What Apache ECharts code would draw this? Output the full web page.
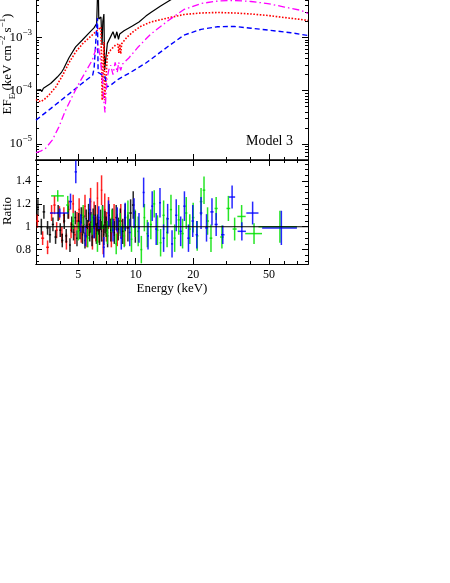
<!DOCTYPE html>
<html>
<head>
<meta charset="utf-8">
<script src="https://cdn.jsdelivr.net/npm/echarts@6/dist/echarts.min.js"></script>
<style>
html, body { margin: 0; padding: 0; background: #fff; }
#main { width: 450px; height: 583px; }
</style>
</head>
<body>
<div id="main"></div>
<script>
// model curves: energy (keV) and EF_E (keV cm^-2 s^-1)
var totalE = [3.0, 3.17, 3.22, 3.28, 3.58, 3.88, 4.09, 4.18, 4.46, 4.84, 5.25, 5.68, 6.04, 6.24, 6.3, 6.35, 6.4, 6.44, 6.57, 6.66, 6.72, 6.81, 6.87, 6.91, 6.99, 7.1, 7.39, 7.6, 7.79, 7.96, 8.12, 8.24, 8.68, 9.6, 10.4, 11.3, 12.0, 13.5, 14.9, 16, 20, 30, 50, 80];
var totalF = [1.02e-4, 1.05e-4, 9.6e-5, 1.11e-4, 1.36e-4, 1.8e-4, 2.23e-4, 2.54e-4, 4.1e-4, 6.6e-4, 8.9e-4, 1.2e-3, 1.5e-3, 1.82e-3, 1.9e-3, 1.5e-2, 2.2e-3, 2.11e-3, 2.4e-3, 7.2e-4, 2.0e-3, 2.74e-3, 2.43e-4, 2.43e-4, 2.43e-4, 7.7e-4, 1.03e-3, 1.27e-3, 9.6e-4, 1.27e-3, 9.2e-4, 1.15e-3, 1.33e-3, 1.63e-3, 1.94e-3, 2.5e-3, 2.92e-3, 3.87e-3, 4.8e-3, 5.6e-3, 7.2e-3, 9.0e-3, 8.5e-3, 7.0e-3];

var dottedE = [3.0, 3.17, 3.31, 3.5, 3.81, 4.12, 4.46, 4.84, 5.25, 5.68, 6.16, 6.41, 6.57, 6.67, 6.81, 6.87, 6.99, 7.1, 7.39, 7.85, 8.07, 8.15, 8.24, 8.34, 8.44, 9.05, 9.8, 10.6, 12.0, 14.7, 17.9, 22.0, 26.9, 32.9, 40.2, 49.2, 60.2, 73.6, 80];
var dottedF = [6.8e-5, 6.2e-5, 6.8e-5, 8.2e-5, 1.17e-4, 1.88e-4, 3.3e-4, 5.3e-4, 7.5e-4, 9.7e-4, 1.26e-3, 1.43e-3, 1.56e-3, 6.6e-5, 8.2e-4, 6.6e-5, 6.6e-5, 4.65e-4, 5.8e-4, 7.2e-4, 7.4e-4, 5.1e-4, 7.5e-4, 4.9e-4, 7.6e-4, 1.03e-3, 1.31e-3, 1.6e-3, 1.94e-3, 2.3e-3, 2.68e-3, 2.86e-3, 2.92e-3, 2.86e-3, 2.74e-3, 2.57e-3, 2.35e-3, 2.16e-3, 2.07e-3];

var dashedE = [3.0, 3.58, 4.29, 5.14, 5.95, 6.05, 6.16, 6.24, 6.3, 6.35, 6.4, 6.55, 6.7, 6.88, 7.07, 7.4, 8.13, 9.4, 11.3, 12.0, 14.7, 17.9, 22.0, 26.9, 32.9, 40.2, 49.2, 65, 80];
var dashedF = [2.8e-5, 4.6e-5, 7.7e-5, 1.3e-4, 1.96e-4, 2.65e-4, 7.2e-4, 1.7e-3, 2.3e-3, 2.2e-4, 2.14e-4, 2.05e-4, 1.96e-4, 1.9e-4, 1.17e-4, 1.27e-4, 1.65e-4, 2.2e-4, 3.3e-4, 3.86e-4, 6.66e-4, 1.1e-3, 1.41e-3, 1.58e-3, 1.6e-3, 1.48e-3, 1.37e-3, 1.22e-3, 1.08e-3];

var dashDotE = [3.0, 3.17, 3.37, 3.65, 3.95, 4.29, 4.64, 5.04, 5.46, 5.92, 6.16, 6.34, 6.49, 6.66, 6.8, 6.9, 7.05, 7.22, 7.39, 7.6, 7.8, 8.0, 8.14, 8.34, 8.53, 9.2, 10.3, 11.3, 12.0, 14.7, 17.9, 22.0, 26.9, 32.9, 40.2, 49.2, 60.2, 73.6, 80];
var dashDotF = [6.9e-6, 7.3e-6, 8.3e-6, 1.18e-5, 2.07e-5, 4.3e-5, 7.7e-5, 1.37e-4, 2.26e-4, 3.75e-4, 5.8e-4, 7.2e-4, 4.65e-4, 1.96e-4, 6.6e-5, 3.9e-5, 1.57e-4, 2.43e-4, 3.0e-4, 2.0e-4, 3.4e-4, 2.2e-4, 3.4e-4, 2.4e-4, 3.15e-4, 4.1e-4, 6.6e-4, 9.3e-4, 1.15e-3, 2.02e-3, 3.33e-3, 4.3e-3, 4.8e-3, 4.9e-3, 4.7e-3, 4.3e-3, 3.7e-3, 3.2e-3, 2.8e-3];

// ratio data: bin centre, half width (keV), ratio, 1-sigma error
var blackE = [3.07, 3.2, 3.3, 3.45, 3.55, 3.68, 3.8, 3.92, 4.02, 4.12, 4.22, 4.32, 4.42, 4.52, 4.62, 4.72, 4.82, 4.92, 5.02, 5.1, 5.18, 5.26, 5.34, 5.42, 5.5, 5.58, 5.66, 5.74, 5.82, 5.9, 5.98, 6.06, 6.14, 6.22, 6.3, 6.38, 6.46, 6.54, 6.62, 6.7, 6.8, 6.9, 7.0, 7.12, 7.25, 7.4, 7.55, 7.72, 7.9, 8.1, 8.3, 8.55, 8.8, 9.1, 9.4, 9.7, 9.95];
var blackW = [0.04, 0.04, 0.05, 0.05, 0.05, 0.05, 0.05, 0.05, 0.05, 0.05, 0.05, 0.05, 0.05, 0.05, 0.05, 0.05, 0.05, 0.05, 0.05, 0.04, 0.04, 0.04, 0.04, 0.04, 0.04, 0.04, 0.04, 0.04, 0.04, 0.04, 0.04, 0.04, 0.04, 0.04, 0.04, 0.04, 0.04, 0.04, 0.04, 0.04, 0.05, 0.05, 0.05, 0.06, 0.06, 0.07, 0.07, 0.08, 0.08, 0.1, 0.1, 0.12, 0.12, 0.15, 0.15, 0.15, 0.1];
var blackR = [1.17, 1.0, 1.13, 0.99, 0.93, 1.02, 0.91, 1.12, 0.97, 0.88, 1.05, 0.92, 1.13, 0.84, 1.02, 0.95, 1.08, 0.9, 1.05, 0.97, 1.1, 0.93, 1.02, 0.88, 1.07, 0.98, 1.12, 0.95, 1.04, 0.91, 1.08, 0.99, 1.1, 0.94, 1.03, 1.0, 0.92, 1.06, 0.96, 1.09, 0.93, 1.04, 1.0, 0.92, 1.1, 0.97, 1.06, 0.95, 1.08, 0.98, 1.05, 0.96, 1.08, 0.99, 1.12, 1.19, 1.0];
var blackErr = [0.07, 0.07, 0.06, 0.06, 0.07, 0.06, 0.06, 0.07, 0.06, 0.06, 0.07, 0.06, 0.06, 0.06, 0.07, 0.07, 0.06, 0.07, 0.07, 0.08, 0.07, 0.08, 0.08, 0.07, 0.08, 0.08, 0.08, 0.08, 0.09, 0.08, 0.08, 0.09, 0.09, 0.09, 0.08, 0.07, 0.08, 0.09, 0.09, 0.1, 0.09, 0.1, 0.09, 0.1, 0.1, 0.1, 0.1, 0.1, 0.11, 0.1, 0.11, 0.11, 0.12, 0.12, 0.12, 0.12, 0.14];

var redE = [3.05, 3.25, 3.45, 3.62, 3.75, 3.85, 3.98, 4.1, 4.2, 4.33, 4.45, 4.58, 4.7, 4.8, 4.92, 5.05, 5.18, 5.3, 5.42, 5.55, 5.68, 5.8, 5.93, 6.05, 6.18, 6.3, 6.42, 6.62, 6.75, 6.88, 7.02, 7.2, 7.45, 7.7, 8.0, 8.35, 8.75];
var redW = [0.05, 0.06, 0.06, 0.05, 0.05, 0.05, 0.05, 0.05, 0.05, 0.05, 0.05, 0.05, 0.05, 0.05, 0.05, 0.05, 0.05, 0.05, 0.05, 0.05, 0.05, 0.05, 0.05, 0.05, 0.05, 0.05, 0.05, 0.06, 0.06, 0.07, 0.07, 0.08, 0.1, 0.1, 0.12, 0.15, 0.18];
var redR = [1.05, 0.9, 0.82, 1.12, 1.19, 0.97, 1.12, 0.93, 1.1, 0.87, 1.15, 0.97, 1.2, 0.93, 1.05, 1.15, 0.95, 1.08, 1.18, 0.92, 1.02, 1.22, 0.9, 1.1, 0.98, 1.25, 0.96, 1.32, 0.88, 1.15, 1.0, 1.12, 0.95, 1.06, 0.97, 1.05, 0.99];
var redErr = [0.06, 0.06, 0.06, 0.07, 0.08, 0.07, 0.06, 0.07, 0.07, 0.07, 0.08, 0.07, 0.08, 0.08, 0.08, 0.1, 0.09, 0.09, 0.1, 0.1, 0.1, 0.12, 0.1, 0.12, 0.11, 0.14, 0.1, 0.13, 0.12, 0.14, 0.13, 0.14, 0.13, 0.14, 0.14, 0.15, 0.16];

var greenE = [3.9, 4.4, 4.7, 5.0, 5.3, 5.6, 5.9, 6.3, 6.7, 7.1, 7.5, 7.9, 8.3, 8.7, 9.1, 9.5, 9.9, 10.3, 10.7, 11.1, 11.5, 12.0, 12.5, 13.0, 13.5, 14.0, 14.6, 15.3, 16.0, 16.8, 17.6, 18.4, 19.2, 20.0, 21.0, 22.0, 22.8, 23.8, 24.8, 26.4, 28.3, 30.6, 33.0, 35.9, 41.7, 57];
var greenW = [0.3, 0.08, 0.06, 0.06, 0.06, 0.06, 0.06, 0.07, 0.07, 0.08, 0.08, 0.08, 0.1, 0.1, 0.1, 0.1, 0.1, 0.12, 0.12, 0.12, 0.12, 0.15, 0.15, 0.15, 0.15, 0.18, 0.18, 0.2, 0.2, 0.22, 0.25, 0.25, 0.28, 0.3, 0.3, 0.35, 0.35, 0.4, 0.4, 0.5, 0.6, 0.7, 0.8, 1.8, 4.2, 13];
var greenR = [1.27, 1.19, 1.05, 0.96, 1.1, 0.9, 1.02, 0.87, 1.08, 0.95, 1.05, 0.85, 1.02, 0.92, 1.12, 0.89, 1.03, 0.96, 0.8, 1.08, 0.94, 1.02, 1.2, 0.97, 0.86, 1.1, 0.95, 1.15, 0.9, 1.06, 0.94, 1.12, 0.98, 1.08, 0.92, 1.22, 1.32, 1.05, 0.9, 1.16, 0.91, 1.16, 0.98, 1.09, 0.94, 1.0];
var greenErr = [0.05, 0.08, 0.07, 0.08, 0.09, 0.08, 0.09, 0.09, 0.1, 0.1, 0.1, 0.09, 0.1, 0.1, 0.11, 0.11, 0.12, 0.13, 0.12, 0.12, 0.12, 0.13, 0.12, 0.13, 0.12, 0.13, 0.13, 0.13, 0.12, 0.13, 0.13, 0.14, 0.13, 0.13, 0.13, 0.12, 0.12, 0.12, 0.12, 0.1, 0.1, 0.11, 0.1, 0.1, 0.09, 0.14];

var blueE = [4.0, 4.55, 4.85, 5.15, 5.45, 5.75, 6.05, 6.4, 6.8, 7.2, 7.6, 8.0, 8.4, 8.8, 9.3, 9.8, 10.4, 11.0, 11.6, 12.2, 12.8, 13.4, 14.0, 14.7, 15.5, 16.3, 17.2, 18.0, 18.9, 19.9, 20.9, 22.0, 23.5, 25.1, 26.4, 28.6, 32.0, 36.0, 41.0, 58.0];
var blueW = [0.45, 0.08, 0.07, 0.07, 0.07, 0.07, 0.07, 0.07, 0.08, 0.08, 0.08, 0.1, 0.1, 0.1, 0.12, 0.12, 0.13, 0.13, 0.14, 0.15, 0.16, 0.16, 0.18, 0.2, 0.2, 0.22, 0.25, 0.25, 0.28, 0.3, 0.3, 0.35, 0.4, 0.5, 0.5, 0.6, 1.2, 1.8, 3.0, 12];
var blueR = [1.12, 1.22, 1.48, 1.03, 0.92, 1.15, 1.0, 1.08, 0.82, 1.12, 0.97, 1.06, 0.9, 1.09, 0.95, 1.12, 0.99, 1.3, 0.92, 1.18, 0.98, 1.21, 0.9, 1.07, 0.85, 1.1, 0.96, 1.18, 0.9, 1.05, 0.93, 1.12, 0.99, 1.13, 1.02, 0.93, 1.26, 0.96, 1.12, 0.99];
var blueErr = [0.04, 0.07, 0.1, 0.08, 0.09, 0.1, 0.1, 0.1, 0.09, 0.11, 0.1, 0.11, 0.1, 0.12, 0.12, 0.13, 0.13, 0.13, 0.12, 0.13, 0.14, 0.13, 0.12, 0.13, 0.12, 0.14, 0.13, 0.13, 0.12, 0.14, 0.12, 0.14, 0.12, 0.12, 0.1, 0.08, 0.1, 0.08, 0.1, 0.15];

var ratioRef = 1;

// tick positions
var xMajor = [5, 10, 20, 50];
var xMinor = [4, 6, 7, 8, 9, 30, 40, 60, 70, 80];
var yMajorTop = [1e-5, 1e-4, 1e-3];
var yMinorTop = [6e-6, 7e-6, 8e-6, 9e-6, 2e-5, 3e-5, 4e-5, 5e-5, 6e-5, 7e-5, 8e-5, 9e-5, 2e-4, 3e-4, 4e-4, 5e-4, 6e-4, 7e-4, 8e-4, 9e-4, 2e-3, 3e-3, 4e-3, 5e-3];
var yMajorRatio = [0.8, 1, 1.2, 1.4];
var yMinorRatio = [0.7, 0.75, 0.85, 0.9, 0.95, 1.05, 1.1, 1.15, 1.25, 1.3, 1.35, 1.45, 1.5, 1.55];

var FONT = 'Liberation Serif';
var NB = '\u00a0';

function pairs(xs, ys) {
	var out = [];
	for (var i = 0; i < xs.length; i++) out.push([xs[i], ys[i]]);
	return out;
}

function errData(e, w, r, err) {
	var out = [];
	for (var i = 0; i < e.length; i++) {
		out.push([e[i], e[i] - w[i], e[i] + w[i], r[i], r[i] - err[i], r[i] + err[i]]);
	}
	return out;
}

function xAxisDef(grid, pos, ticks, len, labels, lw) {
	return {
		type: 'log', logBase: 10, gridIndex: grid, position: pos, min: 3, max: 80,
		axisLine: {show: true, onZero: false, lineStyle: {color: '#000', width: lw || 1}},
		axisTick: {show: true, inside: true, length: len, customValues: ticks, lineStyle: {color: '#000', width: 1}},
		axisLabel: {show: labels, customValues: ticks, margin: 5, color: '#000', fontFamily: FONT, fontSize: 12,
			formatter: function(v) { return String(+(+v).toPrecision(3)); }},
		splitLine: {show: false}, minorTick: {show: false}
	};
}

function yLogDef(pos, ticks, len, labels) {
	return {
		type: 'log', logBase: 10, gridIndex: 0, position: pos, min: 5e-6, max: 1e-2,
		axisLine: {show: true, onZero: false, lineStyle: {color: '#000', width: 1}},
		axisTick: {show: true, inside: true, length: len, customValues: ticks, lineStyle: {color: '#000', width: 1}},
		axisLabel: {show: labels, customValues: ticks, margin: 4,
			formatter: function(v) {
				var n = Math.round(Math.log10(v));
				return '{a|10}{b|' + (n < 0 ? '\u2212' : '') + Math.abs(n) + '}';
			},
			rich: {
				a: {fontFamily: FONT, fontSize: 13, color: '#000', lineHeight: 19},
				b: {fontFamily: FONT, fontSize: 9, color: '#000', lineHeight: 9, verticalAlign: 'top'}
			}},
		splitLine: {show: false}, minorTick: {show: false}
	};
}

function yRatioDef(pos, ticks, len, labels) {
	return {
		type: 'value', gridIndex: 1, position: pos, min: 0.674, max: 1.584,
		axisLine: {show: true, onZero: false, lineStyle: {color: '#000', width: 1}},
		axisTick: {show: true, inside: true, length: len, customValues: ticks, lineStyle: {color: '#000', width: 1}},
		axisLabel: {show: labels, customValues: ticks, margin: 5, color: '#000', fontFamily: FONT, fontSize: 12},
		splitLine: {show: false}, minorTick: {show: false}
	};
}

function errRender(color) {
	return function(params, api) {
		var l = api.coord([api.value(1), api.value(3)]);
		var r = api.coord([api.value(2), api.value(3)]);
		var lo = api.coord([api.value(0), api.value(4)]);
		var hi = api.coord([api.value(0), api.value(5)]);
		var st = {stroke: color, lineWidth: 1.5, opacity: 0.85};
		return {
			type: 'group',
			children: [
				{type: 'line', shape: {x1: l[0], y1: l[1], x2: r[0], y2: r[1]}, style: st},
				{type: 'line', shape: {x1: lo[0], y1: lo[1], x2: hi[0], y2: hi[1]}, style: st}
			]
		};
	};
}

function errSeries(name, color, data) {
	return {
		name: name, type: 'custom', xAxisIndex: 2, yAxisIndex: 4, clip: true,
		renderItem: errRender(color), data: data, silent: true
	};
}

function modelSeries(name, color, data, type, width) {
	return {
		name: name, type: 'line', xAxisIndex: 0, yAxisIndex: 0, data: data,
		showSymbol: false, symbol: 'none', clip: true, silent: true,
		lineStyle: {color: color, width: width, type: type}
	};
}

var chart = echarts.init(document.getElementById('main'), null, {renderer: 'canvas'});

var option = {
	animation: false,
	backgroundColor: '#fff',
	grid: [
		{left: 36, top: -16, width: 272, height: 176, containLabel: false, outerBoundsMode: 'none'},
		{left: 36, top: 160, width: 272, height: 104, containLabel: false, outerBoundsMode: 'none'}
	],
	xAxis: [
		xAxisDef(0, 'bottom', xMajor, 6, false, 1),
		xAxisDef(0, 'bottom', xMinor, 3, false, 1),
		xAxisDef(1, 'bottom', xMajor, 6, true, 1),
		xAxisDef(1, 'bottom', xMinor, 3, false, 1),
		xAxisDef(1, 'top', xMajor, 6, false, 1.6),
		xAxisDef(1, 'top', xMinor, 3, false, 1)
	],
	yAxis: [
		yLogDef('left', yMajorTop, 6, true),
		yLogDef('left', yMinorTop, 3, false),
		yLogDef('right', yMajorTop, 6, false),
		yLogDef('right', yMinorTop, 3, false),
		yRatioDef('left', yMajorRatio, 6, true),
		yRatioDef('left', yMinorRatio, 3, false),
		yRatioDef('right', yMajorRatio, 6, false),
		yRatioDef('right', yMinorRatio, 3, false)
	],
	graphic: [
		{type: 'text', x: 8, y: 64, rotation: Math.PI / 2, silent: true,
			style: {text: '{n|EF}{s|E}{n|' + NB + '(keV' + NB + 'cm}{p|\u22122}{n|' + NB + 's}{p|\u22121}{n|)}', align: 'center', verticalAlign: 'middle',
				rich: {
					n: {fontFamily: FONT, fontSize: 13, fill: '#000', lineHeight: 19},
					s: {fontFamily: FONT, fontSize: 9, fill: '#000', lineHeight: 12, verticalAlign: 'bottom'},
					p: {fontFamily: FONT, fontSize: 9, fill: '#000', lineHeight: 9, verticalAlign: 'top'}
				}}},
		{type: 'text', x: 8, y: 211, rotation: Math.PI / 2, silent: true,
			style: {text: 'Ratio', font: '13px "Liberation Serif"', fill: '#000', align: 'center', verticalAlign: 'middle'}},
		{type: 'text', x: 172, y: 289, silent: true,
			style: {text: 'Energy (keV)', font: '13px "Liberation Serif"', fill: '#000', align: 'center', verticalAlign: 'middle'}},
		{type: 'text', x: 293, y: 141, silent: true,
			style: {text: 'Model 3', font: '14px "Liberation Serif"', fill: '#000', align: 'right', verticalAlign: 'middle'}}
	],
	series: [
		modelSeries('total', '#000000', pairs(totalE, totalF), 'solid', 1.2),
		modelSeries('dotted', '#ff0000', pairs(dottedE, dottedF), 'dotted', 1.6),
		modelSeries('dashed', '#0000ff', pairs(dashedE, dashedF), [5, 3], 1.4),
		modelSeries('dashdot', '#ff00ff', pairs(dashDotE, dashDotF), [7, 3, 1.5, 3], 1.3),
		errSeries('red', '#ff0000', errData(redE, redW, redR, redErr)),
		errSeries('black', '#000000', errData(blackE, blackW, blackR, blackErr)),
		errSeries('green', '#00e000', errData(greenE, greenW, greenR, greenErr)),
		errSeries('blue', '#0000ff', errData(blueE, blueW, blueR, blueErr)),
		{
			name: 'unity', type: 'line', xAxisIndex: 2, yAxisIndex: 4, silent: true,
			data: [[3, ratioRef], [80, ratioRef]], showSymbol: false, symbol: 'none',
			lineStyle: {color: '#000', width: 1}, z: 5
		}
	]
};

chart.setOption(option);
</script>
</body>
</html>
